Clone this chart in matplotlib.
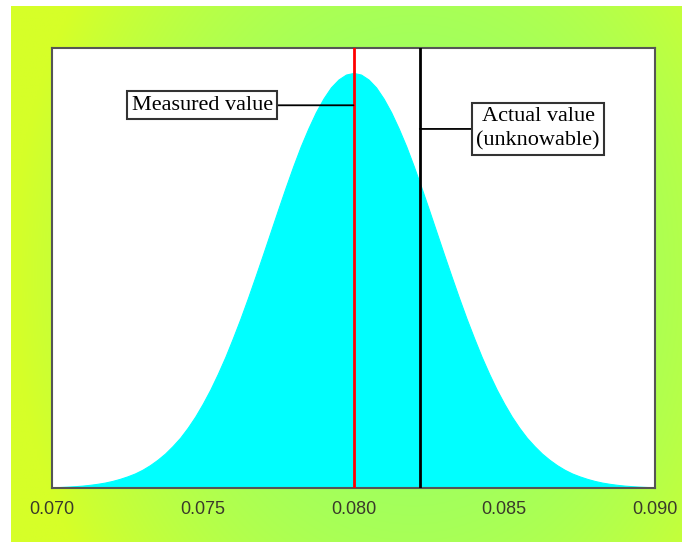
import numpy as np
import matplotlib.pyplot as plt

# relative height of the distribution at 0.00025 steps
x_vals = np.round(np.arange(0.070, 0.090001, 0.00025), 5)
half = [0.0017, 0.0023, 0.0032, 0.0043, 0.0057, 0.0076, 0.010, 0.013,
        0.017, 0.022, 0.028, 0.035, 0.044, 0.055, 0.068, 0.083,
        0.101, 0.121, 0.145, 0.172, 0.203, 0.237, 0.275, 0.316,
        0.361, 0.408, 0.458, 0.510, 0.563, 0.617, 0.671, 0.724,
        0.775, 0.823, 0.866, 0.905, 0.938, 0.965, 0.984, 0.996]
heights = half + [1.0] + half[::-1]

measured = 0.0800
actual = 0.0822
tick_vals = [0.070, 0.075, 0.080, 0.085, 0.090]
tick_labels = ['0.070', '0.075', '0.080', '0.085', '0.090']

W, H = 682, 542
fig = plt.figure(figsize=(W/100, H/100), dpi=100, facecolor='white')

#gradient background
bg = fig.add_axes([11/W, 0, 1-11/W, (H-6)/H])
bg.set_axis_off()
gx, gy = np.meshgrid(np.linspace(0, 1, 300), np.linspace(0, 1, 240))
t = np.sqrt(((gx-0.6)/0.6)**2 + ((gy-0.5)/0.95)**2)
t = np.clip(t, 0, 1)**2.2
c0 = np.array([153, 255, 102])/255
c1 = np.array([214, 255, 40])/255
img = c0 + (c1-c0)*t[..., None]
bg.imshow(img, aspect='auto', extent=[0, 1, 0, 1])
bg.set_xlim(0, 1)
bg.set_ylim(0, 1)

ax = fig.add_axes([52/W, 1-488/H, (655-52)/W, (488-48)/H])
ax.set_facecolor('white')
ax.fill_between(x_vals, 0, heights, color='#00FFFF', lw=0.8, edgecolor='#00FFFF')
ax.axvline(measured, color='#FF0000', lw=2, zorder=3)
ax.axvline(actual, color='black', lw=2, zorder=3)

ax.set_xlim(0.070, 0.090)
ax.set_ylim(0, 1.06)
ax.set_yticks([])
ax.set_xticks(tick_vals)
ax.set_xticklabels(tick_labels, family='Liberation Sans', fontsize=13,
                   color='#3a3a2a')
ax.tick_params(axis='x', length=0, pad=9)
for s in ax.spines.values():
  s.set_color('#555555')
  s.set_linewidth(1.5)

#annotation boxes
box = dict(boxstyle='square,pad=0.2', fc='white', ec='#333333', lw=1.5)
line = dict(arrowstyle='-', color='black', lw=1.3, shrinkA=0, shrinkB=0)
ax.annotate('Measured value', xy=(measured, 0.922), xytext=(0.07499, 0.922),
            ha='center', va='center', fontsize=16, family='Liberation Serif',
            bbox=box, arrowprops=line)
ax.annotate('Actual value\n(unknowable)', xy=(actual, 0.865), xytext=(0.08612, 0.865),
            ha='center', va='center', ma='center', fontsize=16,
            family='Liberation Serif', linespacing=1.4, bbox=box,
            arrowprops=line)

plt.savefig('out.png', dpi=100)
